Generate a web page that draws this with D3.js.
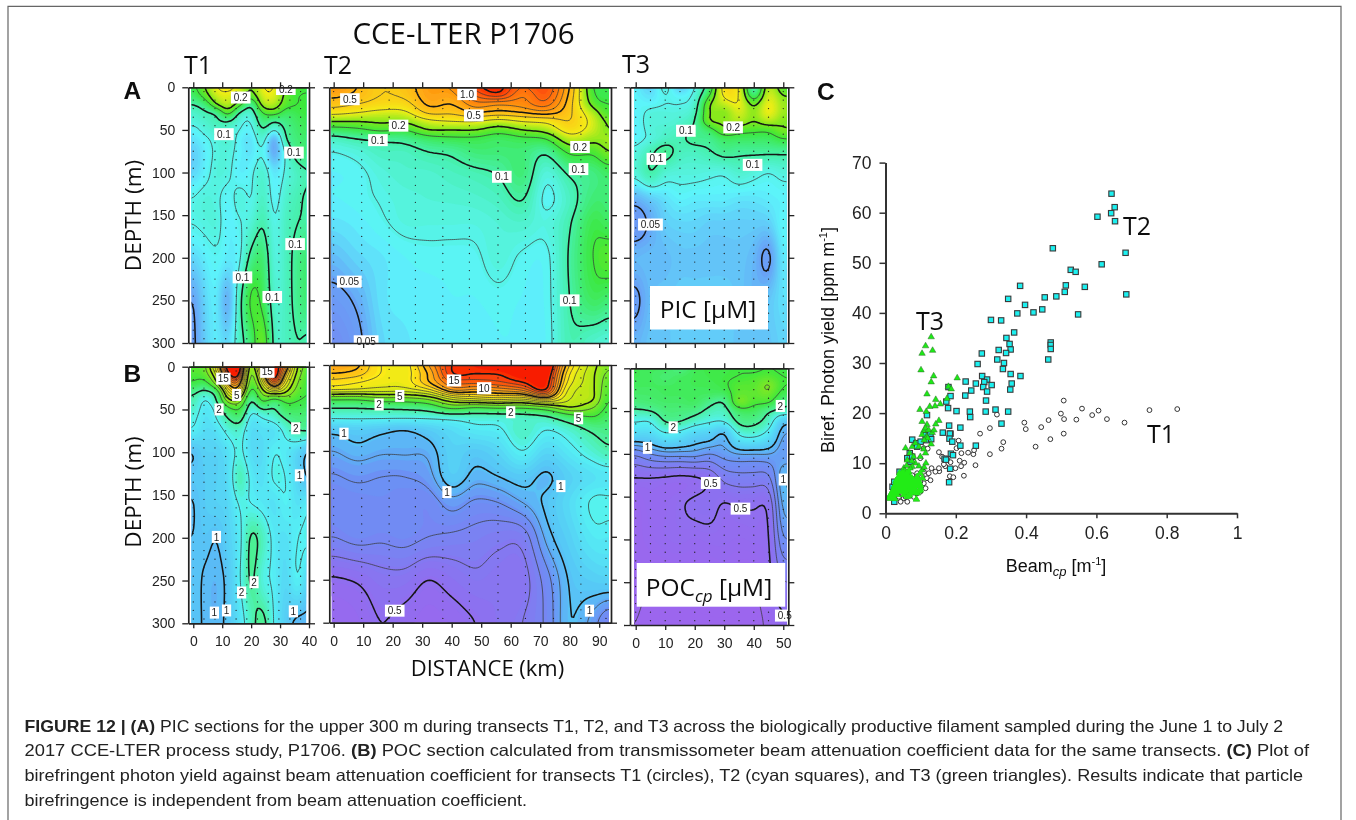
<!DOCTYPE html>
<html><head><meta charset="utf-8">
<script src="https://cdnjs.cloudflare.com/ajax/libs/d3/7.8.5/d3.min.js"></script>
<style>html,body{margin:0;padding:0;background:#fff}svg{display:block}</style></head><body>
<script>
// ---------- shared axes ----------
const depthRows=[0,10,20,30,40,50,60,75,100,130,160,200,250,300];
const depthTicks=[0,50,100,150,200,250,300];
const colsT1=[0,4,8,12,16,20,24,28,32,36,40];
const colsT2=[0,8,16,24,32,40,48,56,64,72,80,88,93];
const colsT3=[0,5,10,15,20,25,30,35,40,45,50];
const ticksT1=[0,10,20,30,40];
const ticksT2=[0,10,20,30,40,50,60,70,80,90];
const ticksT3=[0,10,20,30,40,50];
const stationsT1=[0,3.7,7.5,11.2,14.8,18.5,22.2,25.9,29.6,33.4,37.1];
const stationsT2=[0,9.5,18.8,27.7,37,46,55.7,65,74.5,83.8,92.3];
const stationsT3=[0,5,10,15,20,25,30,35,40,45,50];
// ---------- PIC sections (uM), rows = depthRows ----------
const picT1=[
[.14,.2,.3,.32,.28,.2,.3,.3,.2,.16,.15],
[.125,.17,.26,.28,.24,.17,.27,.28,.18,.15,.15],
[.1,.12,.2,.25,.17,.105,.23,.24,.17,.15,.15],
[.085,.095,.105,.17,.095,.085,.15,.17,.13,.14,.15],
[.08,.085,.095,.1,.08,.075,.12,.1,.115,.13,.14],
[.07,.08,.085,.085,.075,.07,.1,.075,.105,.125,.135],
[.065,.072,.08,.085,.07,.065,.085,.052,.1,.12,.125],
[.06,.068,.078,.08,.07,.065,.075,.05,.08,.115,.12],
[.062,.07,.08,.078,.068,.072,.085,.065,.078,.09,.1],
[.075,.08,.078,.07,.08,.074,.09,.07,.085,.095,.105],
[.075,.078,.08,.068,.074,.082,.1,.075,.09,.1,.105],
[.062,.068,.073,.067,.072,.11,.125,.078,.09,.11,.125],
[.05,.062,.068,.052,.09,.16,.14,.085,.09,.11,.125],
[.048,.06,.068,.062,.088,.125,.19,.09,.09,.1,.095]];
const picT2=[
[.62,.5,.4,.44,.58,.62,.95,1.05,.8,.9,.5,.15,.14],
[.52,.47,.4,.42,.56,.56,.8,.95,.7,.85,.47,.16,.14],
[.44,.4,.36,.36,.52,.5,.65,.6,.65,.75,.44,.18,.15],
[.33,.3,.27,.28,.42,.42,.5,.47,.5,.55,.42,.24,.16],
[.2,.2,.21,.21,.27,.3,.3,.26,.3,.32,.4,.27,.19],
[.13,.14,.16,.15,.2,.2,.2,.17,.2,.23,.35,.26,.2],
[.09,.1,.105,.11,.13,.14,.14,.13,.14,.15,.25,.22,.22],
[.075,.08,.09,.09,.1,.105,.12,.12,.12,.105,.16,.16,.2],
[.07,.072,.08,.085,.085,.09,.095,.102,.12,.08,.105,.115,.13],
[.07,.072,.076,.08,.082,.083,.085,.09,.102,.072,.09,.12,.12],
[.065,.068,.073,.078,.078,.078,.078,.082,.085,.078,.098,.14,.13],
[.056,.062,.066,.07,.072,.072,.073,.08,.073,.072,.103,.15,.17],
[.046,.052,.065,.068,.068,.07,.07,.072,.07,.071,.1,.13,.12],
[.04,.047,.062,.066,.068,.068,.068,.07,.07,.07,.095,.085,.08]];
const picT3=[
[.07,.06,.08,.058,.075,.12,.35,.3,.09,.25,.16],
[.07,.065,.075,.07,.08,.15,.32,.3,.12,.27,.2],
[.072,.07,.075,.075,.085,.2,.25,.3,.19,.3,.22],
[.068,.08,.08,.08,.092,.2,.2,.27,.21,.3,.22],
[.07,.08,.08,.085,.1,.2,.21,.24,.2,.24,.2],
[.068,.08,.085,.09,.105,.13,.19,.17,.16,.16,.2],
[.07,.078,.088,.095,.11,.11,.13,.13,.13,.13,.15],
[.078,.095,.11,.092,.09,.098,.11,.105,.105,.105,.105],
[.08,.1,.083,.08,.08,.078,.077,.085,.08,.075,.08],
[.054,.06,.065,.07,.068,.068,.068,.066,.066,.068,.07],
[.045,.052,.06,.062,.062,.06,.06,.06,.06,.06,.072],
[.055,.056,.056,.058,.058,.058,.058,.058,.055,.048,.068],
[.048,.056,.058,.06,.06,.06,.06,.058,.055,.058,.065],
[.054,.058,.058,.06,.06,.06,.06,.058,.058,.058,.062]];
// ---------- POC sections (uM) ----------
const pocT1=[
[3.5,3.8,8,17,18,4,12,16,12,5,3.5],
[3.2,3.5,6,14,15,3.5,9,17,9,4.5,3.2],
[2.9,2.6,4.5,10,11,3.2,6.5,13,7,4,3],
[2.1,1.8,2.3,7,8,2.5,4.5,6,5,3.5,3],
[1.9,1.45,1.95,4.5,4.5,1.9,3.2,2.4,3.2,3,2.8],
[1.75,1.35,1.6,2.6,3,1.6,2,1.95,2.6,2.6,2.5],
[1.6,1.3,1.5,2,2.3,1.35,1.5,1.65,2.05,2.3,2.3],
[1.45,1.25,1.3,1.6,1.7,1.25,1.3,1.3,1.6,1.95,2],
[1,1.15,1.15,1.3,1.6,1.25,1.25,1.5,1.4,1.2,.97],
[1.05,1.1,1.15,1.25,1.9,1.4,1.3,1.55,1.5,1.2,.97],
[.99,1.1,1.15,1.2,1.55,1.5,1.4,1.3,1.5,1.3,1.45],
[1,1.05,1,1.15,1.4,2.1,1.8,1.4,1.3,1.5,1.55],
[1.05,.98,.95,1.05,1.45,2.1,1.6,1.45,1.2,1.5,1.15],
[1.05,.98,.95,1.05,1.3,1.8,2.2,1.45,1.1,.95,.95]];
const pocT2=[
[11,10.3,8,7.5,11,15,16,18,18,18,9,5.5,4.2],
[10,9.5,8,7.5,10,15,15,15,17,17,8,5.2,3.8],
[8.5,8,7.5,7.5,10,13,13.5,14,15,16,7.5,5.2,3.5],
[7,6.8,6.5,6.5,7.5,11,10.5,11,12,15,6.5,5.2,3.3],
[3,3,3.5,3.5,4,6,7,7.5,7,9,6,5.2,3],
[2,2,2.05,2.1,2.3,3.2,2.8,3,3,3.5,5,4,2.8],
[1.6,1.6,1.6,1.6,1.6,1.65,1.7,1.7,1.75,1.9,2.5,3,2.5],
[1.05,1.1,1.05,1,1.1,1.25,1.4,1.45,1.8,1.5,1.7,2.1,2.2],
[.9,.96,.92,.92,.93,1.15,1.08,1.2,1.5,1.2,1.4,1.7,1.9],
[.79,.82,.8,.8,.85,1.1,.95,1,1.08,.97,1.15,1.3,1.35],
[.75,.76,.77,.76,.74,.85,.78,.8,.9,1.03,1.25,1.55,1.55],
[.7,.74,.72,.74,.7,.68,.66,.63,.64,.93,1.15,1.4,1.4],
[.49,.51,.56,.56,.5,.54,.58,.56,.56,.75,1.02,1.12,1.15],
[.43,.45,.5,.47,.44,.46,.5,.55,.6,.72,1,.85,.7]];
const pocT3=[
[2.7,2.6,2.6,2.2,2.7,2.8,2.8,3,2.8,3,2.8],
[2.7,2.6,2.4,2.6,2.7,2.8,2.9,3,3.2,3.4,3],
[2.6,2.6,2.6,2.6,2.7,2.7,2.9,3.4,3.4,4.2,3],
[2.5,2.5,2.6,2.6,2.6,2.6,2.6,3.5,3.5,3.8,2.7],
[2.3,2.4,2.5,2.5,2.6,2.15,2,4,3.2,3.1,2.1],
[1.9,2,2.3,2.3,2.2,1.85,1.8,2.5,2.6,2.05,1.85],
[1.55,1.55,2.1,2.1,1.8,1.6,1.6,2.2,2.2,1.8,1.1],
[1.25,1.25,1.5,1.4,1.2,1.15,1,1.6,1.7,1.4,.9],
[.72,.8,.85,.85,.85,.8,.85,.9,.9,.9,.85],
[.49,.49,.48,.47,.48,.52,.62,.65,.65,.66,1],
[.42,.46,.46,.49,.52,.53,.49,.51,.51,.52,.95],
[.42,.44,.46,.47,.46,.47,.47,.46,.47,.49,.8],
[.41,.4,.39,.4,.4,.41,.42,.4,.4,.47,.6],
[.4,.39,.38,.38,.38,.38,.38,.38,.37,.42,.48]];
// ---------- contour levels & colour stops ----------
const picThick=[.05,.1,.2,.5,1];
const picThin=[.075,.15,.3,.4,.6,.7,.8,.9];
const pocThick=[.5,1,2,5,10,15];
const pocThin=[.4,.6,.7,.8,.9,1.5,3,4,6,7,8,9,11,12,13,14];
const picStopV=[.03,.05,.07,.1,.15,.2,.3,.5,.8,1.1];
const picStopC=["#7c78f0","#68a0f6","#5cf4fb","#46f0a8","#3ce83a","#7ce820","#f4ee18","#ffb414","#ff6a0a","#f81e04"];
const pocStopV=[.4,.55,.8,1,1.5,2,3,5,8,11,16];
const pocStopC=["#9c66ee","#8a72f0","#6c90f4","#58c0f6","#54f2f4","#4ef0a0","#3ee83c","#a8e818","#fcea18","#ffa414","#f81e04"];
// ---------- contour labels [km, depth, text] ----------
const lblPicT1=[[16.4,12,"0.2"],[32,2,"0.2"],[10.6,55,"0.1"],[34.8,76.6,"0.1"],[35.2,184,"0.1"],[17,223,"0.1"],[27.3,246,"0.1"]];
const lblPicT2=[[5.5,14,"0.5"],[45.2,8,"1.0"],[47.5,33,"0.5"],[22,45,"0.2"],[15,62,"0.1"],[5.3,228,"0.05"],[11,298,"0.05"],[83.5,70,"0.2"],[83,96,"0.1"],[57,105,"0.1"],[80,250,"0.1"]];
const lblPicT3=[[17,51,"0.1"],[7,84,"0.1"],[33,47,"0.2"],[39.6,91,"0.1"],[5,161,"0.05"]];
const lblPocT1=[[10.4,14,"15"],[25.6,6,"15"],[15,33,"5"],[8.9,50,"2"],[35.4,72,"2"],[36.7,127,"1"],[8,199,"1"],[21,252,"2"],[16.7,264,"2"],[7.3,287.5,"1"],[11.5,285,"1"],[34.6,286,"1"]];
const lblPocT2=[[40.8,18,"15"],[22.4,36,"5"],[15.4,46,"2"],[3.5,80,"1"],[38.4,148,"1"],[20.7,286,"0.5"],[51,27,"10"],[60,55,"2"],[83,62,"5"],[77,141,"1"],[86.7,286,"1"]];
const lblPocT3=[[12.7,69,"2"],[4,93,"1"],[49,44,"2"],[50,130,"1"],[25.4,134,"0.5"],[35.5,164,"0.5"],[50.5,289,"0.5"]];
// ---------- scatter: [beam cp, photon yield] ----------
const scatterT1=[[.83,20.8],[.751,20.6],[.68,18.1],[.63,18.8],[.606,20.5],[.588,19.6],[.559,20.9],[.543,18.7],[.507,22.5],[.499,19.9],[.508,18.8],[.464,18.6],[.507,15.9],[.443,17.2],[.469,14.8],[.427,13.3],[.395,18.1],[.399,16.8],[.317,19.7],[.297,17],[.269,15.9],[.335,14.2],[.33,12.9],[.297,11.8],[.256,9.6],
[.152,12.2],[.161,11.3],[.175,10.8],[.17,9.4],[.185,10.2],[.153,8.4],[.142,8.3],[.131,9],[.123,8],[.118,7],[.128,6.6],[.104,7.3],[.109,6],[.095,6.3],[.099,11],[.109,13],[.12,12.9],[.208,14.5],[.202,13],[.216,12],[.235,12.1],[.25,11.8],[.252,12.6],[.224,10.1],[.211,10.5],[.215,9.4],[.199,9],[.183,7.4],[.193,7.2],[.223,7.5],[.152,9],[.166,9.8],
[.052,3],[.043,2.3],[.057,3.3],[.062,2.3],[.071,3.7],[.08,3.3],[.09,4],[.099,4.3],[.047,4],[.038,3.3],[.066,4.7],[.076,5.3],[.085,5.3],[.095,5],[.114,5],[.099,6.3],[.109,8.3],[.08,6.6],[.09,8],[.076,7.6]];
const scatterT2=[[.643,63.8],[.652,61.1],[.642,59.9],[.603,59.2],[.653,58.3],[.683,52],[.615,49.7],[.685,43.7],[.476,52.9],[.527,48.6],[.541,48.2],[.567,45.2],[.513,45.5],[.51,44.2],[.486,43.3],[.453,43.1],[.383,45.4],[.349,42.8],[.397,41.6],[.375,39.9],[.421,40.1],[.446,40.7],[.548,39.7],[.3,38.6],[.329,38.5],[.366,36.1],[.344,35],[.353,33.8],[.356,32.7],[.322,32.6],[.343,32],[.47,34.1],[.47,33.6],[.47,32.8],[.463,30.7],[.274,31.9],[.318,30.7],[.337,30],[.262,29.8],[.334,28.8],[.356,27.8],[.384,27.4],[.275,27.4],[.289,26.7],[.228,26.3],[.281,26.2],[.257,25.9],[.302,25.6],[.278,25.2],[.359,25.9],[.355,24.7],[.289,24.3],[.244,24.5],[.227,23.5],[.179,25.2],[.185,23.4],[.173,22.3],[.178,21],[.286,22.5],[.285,20.3],[.313,20.7],[.349,20.3],[.202,20.4],[.24,20.3],[.241,19.2],[.33,17.9],[.181,17.5],[.213,17.1],[.163,16.1],[.185,15.9],[.183,15.9],[.182,14.9],[.19,14.3],[.257,13.5],[.213,13.5],[.186,11.9],[.192,11.6],[.168,10.9],[.172,10.7],[.184,8.9],[.181,6.2],
[.118,19.6],[.076,14.7],[.088,14],[.069,12],[.062,11],[.071,10.3],[.076,11.3],[.09,13.3],[.1,14.3],[.114,15.6],[.123,15.3],[.128,15.9],[.118,14.6],[.13,14.8],[.025,2.3],[.02,5.3],[.025,6.3],[.04,8.3]];
const scatterT3=[[.13,35.2],[.114,33.4],[.134,32.5],[.104,31.9],[.101,28.6],[.137,27.4],[.13,26.2],[.204,27],[.118,23.8],[.143,22.7],[.156,21.8],[.141,21.4],[.126,21.3],[.098,20.7],[.116,20.3],[.104,18.3],[.152,18.5],[.143,17.8],[.118,17.7],[.179,25.3],[.187,24.8],[.175,22.9],[.109,16.5],[.114,17],[.123,16.6],[.133,16.1],[.104,15.7],[.118,15.3],[.138,16.6],[.12,15],[.11,14.6],[.13,13.8],
[.009,3],[.014,3.7],[.019,4.3],[.024,5],[.028,5.6],[.033,6],[.038,6.6],[.043,7.3],[.047,8],[.052,9],[.057,13],[.062,10.6],[.069,12],[.076,13.3],[.085,14],[.095,13.3],[.109,12.8],[.114,12],[.099,11.3],[.08,11.3],[.085,10],[.076,9.3],[.066,8.3],[.057,7.3],
[.019,3.3],[.026,4],[.033,4.6],[.043,5.3],[.052,6],[.062,6.6],[.052,4.6],[.063,5.3],[.073,6],[.08,6.6],[.09,7.3],[.099,8],[.104,8.6],[.088,2.8],[.09,4],[.099,4.6],[.08,4.6],[.071,4],[.062,3.3],[.052,3.7],[.043,4.3],[.033,3.7],[.026,2.9],
[.012,3],[.016,3.2],[.02,3.8],[.023,4.4],[.027,4.8],[.03,5.2],[.035,5.5],[.04,5.8],[.045,6.2],[.05,6.8],[.055,7],[.06,7.6],[.065,7],[.07,7.2],[.075,7],[.08,5.6],[.085,6],[.095,6.4],[.105,7],[.11,9.2],[.115,10],[.075,10.4],[.07,9],[.06,9.5],[.05,8],[.04,8],[.035,7],[.03,6.5],[.1,5.6],[.095,9.4],
[.015,3.4],[.018,4],[.022,4.6],[.025,5.4],[.03,6],[.035,6.3],[.04,7],[.045,7.6],[.05,7.5],[.055,8.5],[.06,8],[.028,4],[.032,5],[.036,5.5],[.04,5],[.045,5.6],[.05,5.2],[.055,5.8],[.06,5.5],[.065,4.6],[.07,5],[.075,5.6],[.08,5.2],[.085,4.8],[.09,5.4],[.095,4.4],[.1,5],[.058,4.2],[.068,3.6],[.038,4.8],[.042,6.4],[.048,6.6],[.054,6.4],[.062,6.2],[.068,6.4],[.078,6.4],[.088,6.6],[.094,6],[.048,5],[.056,5],[.066,5.6],[.072,4.6],[.082,4.2]];
const denseYieldLimit=8.5;
const scatterXTicks=[0,.2,.4,.6,.8,1];
const scatterYTicks=[0,10,20,30,40,50,60,70];
const captionLines=[
 [["FIGURE 12 | (A)",1]," PIC sections for the upper 300 m during transects T1, T2, and T3 across the biologically productive filament sampled during the June 1 to July 2"],
 ["2017 CCE-LTER process study, P1706. ",["(B)",1]," POC section calculated from transmissometer beam attenuation coefficient data for the same transects. ",["(C)",1]," Plot of"],
 ["birefringent photon yield against beam attenuation coefficient for transects T1 (circles), T2 (cyan squares), and T3 (green triangles). Results indicate that particle"],
 ["birefringence is independent from beam attenuation coefficient."]];
const captionEnds=[1283,1309,1303,527];
const captionBaselines=[732,756,781,806];

// ---------- drawing ----------
const svg=d3.select("body").append("svg").attr("width",1356).attr("height",820);
const defs=svg.append("defs");
const blur=defs.append("filter").attr("id","soft").attr("x","-5%").attr("y","-5%").attr("width","110%").attr("height","110%");
blur.append("feGaussianBlur").attr("stdDeviation",.45);
const SANS="'Liberation Sans',Arial,sans-serif", HUM="'Open Sans',sans-serif";
const fig=svg.append("g").attr("filter","url(#soft)");

function panel(cfg){
  const {cols,vals,box,xDom,colorDom,thick,thin,stopV,stopC,labels,stations,xTicks,showXLabels,showYLabels,id}=cfg;
  const x=d3.scaleLinear().domain(xDom).range([box.x0,box.x1]);
  const y=d3.scaleLinear().domain([0,300]).range([box.y0,box.y1]);
  const g=fig.append("g");
  const cell=2,pad=3;
  const nx=Math.ceil((x(colorDom[1])-x(colorDom[0]))/cell)+2*pad+1;
  const ny=Math.ceil((box.y1-box.y0)/cell)+2*pad+1;
  const ux=d3.scaleLinear().domain(cols).range(d3.range(cols.length)).clamp(true);
  const uy=d3.scaleLinear().domain(depthRows).range(d3.range(depthRows.length)).clamp(true);
  const cr=(a,b,c,d,t)=>.5*(2*b+(c-a)*t+(2*a-5*b+4*c-d)*t*t+(3*b-a-3*c+d)*t*t*t);
  const L=vals.map(r=>r.map(v=>Math.log10(v)));
  const at=(i,j)=>L[Math.max(0,Math.min(L.length-1,j))][Math.max(0,Math.min(cols.length-1,i))];
  const field=new Float64Array(nx*ny);
  const x00=x(colorDom[0])-pad*cell,y00=box.y0-pad*cell;
  for(let j=0;j<ny;j++){
    const vy=uy(y.invert(y00+j*cell)),j0=Math.min(Math.floor(vy),L.length-2),ty=vy-j0;
    for(let i=0;i<nx;i++){
      const vx=ux(x.invert(x00+i*cell)),i0=Math.min(Math.floor(vx),cols.length-2),tx=vx-i0;
      const row=k=>cr(at(i0-1,k),at(i0,k),at(i0+1,k),at(i0+2,k),tx);
      field[j*nx+i]=cr(row(j0-1),row(j0),row(j0+1),row(j0+2),ty);
    }
  }
  if(d3.blur2) d3.blur2({data:field,width:nx,height:ny},1);
  const color=d3.scaleLinear().domain(stopV.map(Math.log10)).range(stopC).interpolate(d3.interpolateRgb).clamp(true);
  const [mn,mx]=d3.extent(field);
  const contours=d3.contours().size([nx,ny]).smooth(true);
  const path=d3.geoPath();
  const tf=`translate(${x00-cell/2},${y00-cell/2}) scale(${cell})`;
  defs.append("clipPath").attr("id",id).append("rect").attr("x",x(colorDom[0])).attr("y",box.y0).attr("width",x(colorDom[1])-x(colorDom[0])).attr("height",box.y1-box.y0);
  const cg=g.append("g").attr("clip-path",`url(#${id})`);
  const inner=cg.append("g").attr("transform",tf);
  const bands=d3.range(64).map(i=>mn+(mx-mn)*i/64);
  inner.selectAll("path.band").data(bands).join("path").attr("class","band")
    .attr("d",t=>path(contours.contour(field,t))).attr("fill",t=>color(t+(mx-mn)/128));
  const line=(lv,w,c)=>inner.selectAll(null).data(lv.map(Math.log10)).join("path")
    .attr("d",t=>path(contours.contour(field,t))).attr("fill","none").attr("stroke",c).attr("stroke-width",w/cell).attr("stroke-linejoin","round");
  line(thin,.75,"#3a3a3a"); line(thick,1.55,"#151515");
  const dotDepths=d3.range(5,300,10);
  stations.forEach(s=>cg.append("g").selectAll("circle").data(dotDepths).join("circle")
     .attr("cx",x(s)).attr("cy",d=>y(d)).attr("r",.65).attr("fill","#222"));
  const lg=g.append("g");
  labels.forEach(([km,d,t])=>{
    const w=t.length*5.2+4;
    lg.append("rect").attr("x",x(km)-w/2).attr("y",y(d)-6).attr("width",w).attr("height",12).attr("fill","#fff");
    lg.append("text").attr("x",x(km)).attr("y",y(d)+3.6).attr("text-anchor","middle").attr("font-family",SANS).attr("font-size",10).attr("fill","#222").text(t);
  });
  const ax=(sel)=>{sel.attr("font-family",SANS);sel.selectAll(".domain").attr("stroke","#222").attr("stroke-width",1.7);sel.selectAll(".tick line").attr("stroke","#222").attr("stroke-width",1.3);};
  const noText=()=>"";
  g.append("g").attr("transform",`translate(0,${box.y0})`).call(d3.axisTop(x).tickValues(xTicks).tickSize(5).tickSizeOuter(0).tickFormat(noText)).call(ax);
  const bot=g.append("g").attr("transform",`translate(0,${box.y1})`).call(d3.axisBottom(x).tickValues(xTicks).tickSize(5).tickSizeOuter(0).tickPadding(8).tickFormat(showXLabels?d3.format("d"):noText)).call(ax);
  bot.selectAll("text").attr("font-size",14).attr("fill","#222");
  const left=g.append("g").attr("transform",`translate(${box.x0},0)`).call(d3.axisLeft(y).tickValues(depthTicks).tickSize(6).tickSizeOuter(0).tickPadding(7).tickFormat(showYLabels?d3.format("d"):noText)).call(ax);
  left.selectAll("text").attr("font-size",14).attr("fill","#222");
  g.append("g").attr("transform",`translate(${box.x1},0)`).call(d3.axisRight(y).tickValues(depthTicks).tickSize(6).tickSizeOuter(0).tickFormat(noText)).call(ax);
}
panel({id:"c1",cols:colsT1,vals:picT1,box:{x0:188.3,x1:309,y0:87.3,y1:343},xDom:[-1.72,40],colorDom:[-.6,39],thick:picThick,thin:picThin,stopV:picStopV,stopC:picStopC,labels:lblPicT1,stations:stationsT1,xTicks:ticksT1,showXLabels:false,showYLabels:true});
panel({id:"c2",cols:colsT2,vals:picT2,box:{x0:329.3,x1:611,y0:87.3,y1:343},xDom:[-1.48,94],colorDom:[-.7,93.3],thick:picThick,thin:picThin,stopV:picStopV,stopC:picStopC,labels:lblPicT2,stations:stationsT2,xTicks:ticksT2,showXLabels:false,showYLabels:false});
panel({id:"c3",cols:colsT3,vals:picT3,box:{x0:630,x1:788.3,y0:87.3,y1:343},xDom:[-1.93,51.7],colorDom:[-.5,51.1],thick:picThick,thin:picThin,stopV:picStopV,stopC:picStopC,labels:lblPicT3,stations:stationsT3,xTicks:ticksT3,showXLabels:false,showYLabels:false});
panel({id:"c4",cols:colsT1,vals:pocT1,box:{x0:188.3,x1:309,y0:366.7,y1:623.3},xDom:[-1.72,40],colorDom:[-.6,39],thick:pocThick,thin:pocThin,stopV:pocStopV,stopC:pocStopC,labels:lblPocT1,stations:stationsT1,xTicks:ticksT1,showXLabels:true,showYLabels:true});
panel({id:"c5",cols:colsT2,vals:pocT2,box:{x0:329.3,x1:611,y0:365,y1:622.7},xDom:[-1.48,94],colorDom:[-.7,93.3],thick:pocThick,thin:pocThin,stopV:pocStopV,stopC:pocStopC,labels:lblPocT2,stations:stationsT2,xTicks:ticksT2,showXLabels:true,showYLabels:false});
panel({id:"c6",cols:colsT3,vals:pocT3,box:{x0:630,x1:788.3,y0:368.3,y1:625},xDom:[-1.93,51.7],colorDom:[-.5,51.1],thick:pocThick,thin:pocThin,stopV:pocStopV,stopC:pocStopC,labels:lblPocT3,stations:stationsT3,xTicks:ticksT3,showXLabels:true,showYLabels:false});

const boxes=fig.append("g");
boxes.append("rect").attr("x",650).attr("y",286).attr("width",118).attr("height",43.5).attr("fill","#fff");
boxes.append("text").attr("x",708).attr("y",318).attr("text-anchor","middle").attr("font-family",HUM).attr("font-size",24.5).attr("fill","#111").text("PIC [µM]");
boxes.append("rect").attr("x",636.7).attr("y",563).attr("width",148.5).attr("height",43.7).attr("fill","#fff");
const poc=boxes.append("text").attr("x",709).attr("y",596).attr("text-anchor","middle").attr("font-family",HUM).attr("font-size",24.5).attr("fill","#111");
poc.append("tspan").text("POC");
poc.append("tspan").attr("font-style","italic").attr("font-size",17).attr("dy",6).text("cp");
poc.append("tspan").attr("dy",-6).text(" [µM]");

const T=(x,y,t,size,fam,opt={})=>{const n=fig.append("text").attr("x",x).attr("y",y).attr("font-family",fam).attr("font-size",size).attr("fill","#111").attr("text-anchor",opt.anchor||"start").attr("font-weight",opt.weight||"normal").text(t);
  if(opt.rot)n.attr("transform",`rotate(-90 ${x} ${y})`);return n;};
T(463.5,44,"CCE-LTER P1706",29.5,HUM,{anchor:"middle"});
T(184,74,"T1",25,HUM);T(324,74,"T2",25,HUM);T(622,73,"T3",25,HUM);
T(123.5,99,"A",24.5,SANS,{weight:"bold"});T(123.5,382,"B",24.5,SANS,{weight:"bold"});T(817,100,"C",24.5,SANS,{weight:"bold"});
T(141,215.5,"DEPTH (m)",22.5,HUM,{anchor:"middle",rot:true});T(141,492,"DEPTH (m)",22.5,HUM,{anchor:"middle",rot:true});
T(487.5,676,"DISTANCE (km)",22,HUM,{anchor:"middle"});

const sx=d3.scaleLinear().domain([0,1]).range([885.5,1237]);
const sy=d3.scaleLinear().domain([0,70]).range([513.3,162.6]);
const sc=fig.append("g");
sc.append("g").selectAll("circle").data(scatterT1).join("circle").attr("cx",d=>sx(d[0])).attr("cy",d=>sy(d[1])).attr("r",2.4).attr("fill","#fff").attr("stroke","#333").attr("stroke-width",1);
sc.append("g").selectAll("rect").data(scatterT2).join("rect").attr("x",d=>sx(d[0])-2.7).attr("y",d=>sy(d[1])-2.7).attr("width",5.4).attr("height",5.4).attr("fill","#1cf0f0").attr("stroke","#3a3a3a").attr("stroke-width",1.1);
const tri=d3.symbol().type(d3.symbolTriangle).size(18);
sc.append("g").selectAll("path").data(scatterT3).join("path").attr("d",tri).attr("transform",d=>`translate(${sx(d[0])},${sy(d[1])})`).attr("fill","#1eea16").attr("stroke","#2c6a2c").attr("stroke-width",.5);
// the crowded part of T3 merges into solid green, its outlines hidden
const triDense=d3.symbol().type(d3.symbolTriangle).size(22);
sc.append("g").selectAll("path").data(scatterT3.filter(d=>d[1]<denseYieldLimit)).join("path").attr("d",triDense).attr("transform",d=>`translate(${sx(d[0])},${sy(d[1])})`).attr("fill","#24ec18");
const sAx=s=>{s.attr("font-family",SANS);s.selectAll(".domain").attr("stroke","#333").attr("stroke-width",2);s.selectAll(".tick line").attr("stroke","#333").attr("stroke-width",1.5);s.selectAll("text").attr("font-size",17.5).attr("fill","#222");};
sc.append("g").attr("transform","translate(0,513.3)").call(d3.axisBottom(sx).tickValues(scatterXTicks).tickSize(5).tickSizeOuter(0).tickPadding(8).tickFormat(d=>d===0||d===1?d:d3.format(".1f")(d))).call(sAx);
sc.append("g").attr("transform","translate(885.5,0)").call(d3.axisLeft(sy).tickValues(scatterYTicks).tickSize(6).tickSizeOuter(0).tickPadding(8)).call(sAx);
T(1123,235,"T2",25,HUM);T(916,330,"T3",25,HUM);T(1147,443,"T1",25,HUM);
const yl=T(834,340,"Biref. Photon yield [ppm m",18,SANS,{anchor:"middle",rot:true});
yl.append("tspan").attr("font-size",11).attr("dy",-7).text("-1");
yl.append("tspan").attr("dy",7).text("]");
const xl=T(1056,572,"Beam",18,SANS,{anchor:"middle"});
xl.append("tspan").attr("font-style","italic").attr("font-size",13).attr("dy",4).text("cp");
xl.append("tspan").attr("dy",-4).text(" [m");
xl.append("tspan").attr("font-size",11).attr("dy",-7).text("-1");
xl.append("tspan").attr("dy",7).text("]");

svg.append("path").attr("d",d3.line()([[8,820],[8,6.3],[1341,6.3],[1341,820]])).attr("fill","none").attr("stroke","#666").attr("stroke-width",1.2);
captionLines.forEach((parts,i)=>{
  const t=svg.append("text").attr("x",24.5).attr("y",captionBaselines[i]).attr("font-family",SANS).attr("font-size",16.5).attr("fill","#222")
    .attr("textLength",captionEnds[i]-24.5).attr("lengthAdjust","spacingAndGlyphs");
  parts.forEach(p=>{ if(Array.isArray(p)) t.append("tspan").attr("font-weight","bold").text(p[0]); else t.append("tspan").text(p); });
});
</script></body></html>
